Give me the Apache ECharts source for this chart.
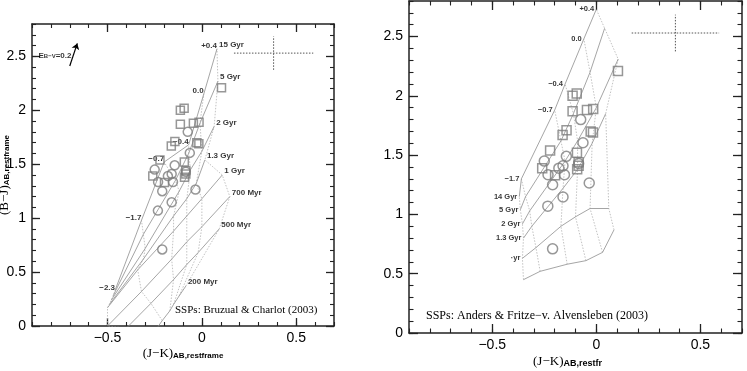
<!DOCTYPE html>
<html>
<head>
<meta charset="utf-8">
<title>(B-J) vs (J-K) with SSP grids</title>
<script src="https://cdn.jsdelivr.net/npm/echarts@6/dist/echarts.min.js"></script>
<style>
  html, body {margin:0; padding:0; background:#fff;}
  #main {width:747px; height:371px;}
</style>
</head>
<body>
<div id="main"></div>
<script>
// observed galaxies (same points in both panels)
var sqJK = [0.104, -0.114, -0.094, -0.114, -0.045, -0.015, -0.143, -0.162, -0.027, -0.016, -0.222, -0.093, -0.085, -0.085, -0.092, -0.26, -0.198];
var sqBJ = [2.21, 2.00, 2.02, 1.87, 1.88, 1.89, 1.71, 1.67, 1.70, 1.69, 1.54, 1.52, 1.44, 1.41, 1.38, 1.39, 1.33];
var ciJK = [-0.075, -0.064, -0.144, -0.25, -0.16, -0.18, -0.232, -0.153, -0.21, -0.034, -0.16, -0.233, -0.21, -0.085];
var ciBJ = [1.80, 1.605, 1.49, 1.45, 1.41, 1.39, 1.335, 1.335, 1.25, 1.265, 1.147, 1.07, 0.71, 1.43];

// Bruzual & Charlot grid: rows = ages, columns = metallicities
var bcAges = ['200 Myr', '500 Myr', '700 Myr', '1 Gyr', '1.3 Gyr', '2 Gyr', '5 Gyr', '15 Gyr'];
var bcMetals = ['\u22122.3', '\u22121.7', '\u22120.7', '\u22120.4', '0.0', '+0.4'];
var bcJK = [
  [-0.25, -0.21, -0.17, -0.15, -0.12, -0.085],
  [-0.40, -0.27, -0.15, -0.08, -0.02, 0.092],
  [-0.50, -0.32, -0.16, -0.08, 0.00, 0.148],
  [-0.50, -0.34, -0.15, -0.08, 0.00, 0.108],
  [-0.49, -0.31, -0.15, -0.08, -0.03, 0.016],
  [-0.48, -0.30, -0.12, -0.06, 0.00, 0.065],
  [-0.47, -0.31, -0.14, -0.07, -0.01, 0.085],
  [-0.46, -0.32, -0.20, -0.07, 0.01, 0.08]
];
var bcBJ = [
  [-0.05, 0.05, 0.14, 0.20, 0.28, 0.37],
  [-0.02, 0.21, 0.43, 0.57, 0.68, 0.90],
  [0.00, 0.32, 0.62, 0.78, 0.92, 1.20],
  [0.17, 0.52, 0.88, 1.02, 1.18, 1.40],
  [0.20, 0.62, 1.02, 1.18, 1.32, 1.54],
  [0.24, 0.72, 1.25, 1.45, 1.62, 1.85],
  [0.28, 0.85, 1.35, 1.60, 1.88, 2.27],
  [0.33, 0.98, 1.52, 1.68, 2.15, 2.57]
];

// Anders & Fritze-v. Alvensleben grid
var afAges = ['', '\u00b7yr', '1.3 Gyr', '2 Gyr', '5 Gyr', '14 Gyr'];
var afMetals = ['', '\u22121.7', '\u22120.7', '\u22120.4', '0.0', '+0.4'];
var afJK = [
  [-0.35, -0.27, -0.14, -0.05, 0.03, 0.085],
  [-0.355, -0.29, -0.17, -0.10, -0.03, 0.06],
  [-0.35, -0.31, -0.16, -0.09, -0.02, 0.045],
  [-0.355, -0.32, -0.15, -0.09, 0.00, 0.105],
  [-0.365, -0.34, -0.17, -0.11, -0.03, 0.04],
  [-0.37, -0.36, -0.20, -0.15, -0.06, 0.00]
];
var afBJ = [
  [0.45, 0.52, 0.58, 0.61, 0.68, 0.87],
  [0.63, 0.72, 0.90, 0.98, 1.05, 1.05],
  [0.80, 0.90, 1.22, 1.38, 1.60, 1.85],
  [0.92, 1.03, 1.45, 1.62, 1.90, 2.31],
  [1.04, 1.15, 1.62, 1.85, 2.20, 2.57],
  [1.15, 1.30, 1.88, 2.10, 2.48, 2.73]
];

// typical error bars and reddening vector
var errJK = 0.38, errBJ = 2.53, errDJK = 0.21, errDBJ = 0.155;
var redFrom = [-0.70, 2.41], redTo = [-0.66, 2.62];

// axes
var jkMin = -0.9, jkMax = 0.7, bjMin = 0, bjMax = 2.8;
var jkTicks = [-0.5, 0, 0.5];
var bjTicks = [0, 0.5, 1, 1.5, 2, 2.5];
var minorStep = 0.1;

var xIdx = [0, 4], yIdx = [0, 4];

function fmt(v) { return String(v).replace('-', '\u2212'); }
function pairs(xs, ys) { return xs.map(function (x, i) { return [x, ys[i]]; }); }
function column(tab, j) { return tab.map(function (row) { return row[j]; }); }

var axisColor = '#222';

function makeAxes(dim, gi, name, nameGap, namePad, sub) {
  var isX = dim === 'x';
  var lo = isX ? jkMin : bjMin, hi = isX ? jkMax : bjMax;
  var ticks = isX ? jkTicks : bjTicks;
  var sides = isX ? ['bottom', 'top'] : ['left', 'right'];
  var big = gi ? 9 : 8;
  var line = {show: true, onZero: false, lineStyle: {color: axisColor, width: 1.5}};
  var out = [];
  sides.forEach(function (side, k) {
    var major = {
      gridIndex: gi, type: 'value', min: lo, max: hi, position: side,
      axisLine: line, splitLine: {show: false},
      axisTick: {inside: true, length: big, customValues: ticks, lineStyle: {color: axisColor, width: 1.3}},
      axisLabel: {show: k === 0, customValues: ticks, formatter: fmt, margin: isX ? 5 : 6,
        color: '#000', fontFamily: 'Liberation Sans', fontSize: 14}
    };
    if (k === 0 && name) {
      major.name = name;
      major.nameLocation = 'middle';
      major.nameGap = nameGap;
      major.nameMoveOverlap = false;
      major.nameTextStyle = {
        padding: namePad,
        rich: {
          m: {fontFamily: 'Liberation Serif', fontSize: 13, color: '#000', verticalAlign: 'bottom', lineHeight: 15},
          s: {fontFamily: 'Liberation Sans', fontWeight: 'bold', fontSize: sub, color: '#000', verticalAlign: 'bottom', lineHeight: 3}
        }
      };
    }
    out.push(major);
    out.push({
      gridIndex: gi, type: 'value', min: lo, max: hi, interval: minorStep, position: side,
      axisLine: {show: false, onZero: false}, splitLine: {show: false}, axisLabel: {show: false},
      axisTick: {inside: true, length: big / 2, lineStyle: {color: axisColor, width: 1.1}}
    });
  });
  return out;
}

function gridSeries(p, jk, bj) {
  var out = [];
  jk.forEach(function (row, i) {
    out.push({type: 'line', xAxisIndex: xIdx[p], yAxisIndex: yIdx[p], data: pairs(row, bj[i]),
      symbol: 'none', silent: true, z: 2, lineStyle: {color: '#8e8e8e', width: 0.8}});
  });
  for (var j = 0; j < jk[0].length; j++) {
    out.push({type: 'line', xAxisIndex: xIdx[p], yAxisIndex: yIdx[p], data: pairs(column(jk, j), column(bj, j)),
      symbol: 'none', silent: true, z: 1, lineStyle: {color: '#b2b2b2', width: 0.8, type: [1.5, 1.5]}});
  }
  return out;
}

function labelSeries(p, pts, texts, pos, offset, size) {
  var data = [];
  pts.forEach(function (pt, i) { if (texts[i]) data.push({value: pt, name: texts[i]}); });
  return {type: 'scatter', xAxisIndex: xIdx[p], yAxisIndex: yIdx[p], symbolSize: 0.1, silent: true, z: 5,
    itemStyle: {color: 'rgba(0,0,0,0)'}, data: data,
    label: {show: true, position: pos, distance: 2, offset: offset, formatter: '{b}', color: '#000',
      fontFamily: 'Liberation Sans', fontWeight: 'bold', fontSize: size}};
}

function markerSeries(p, sym, xs, ys, size) {
  return {type: 'scatter', xAxisIndex: xIdx[p], yAxisIndex: yIdx[p], symbol: sym, symbolSize: size,
    data: pairs(xs, ys), silent: true, z: 6,
    itemStyle: {color: 'rgba(255,255,255,0)', borderColor: '#7d7d7d', borderWidth: 1.5}};
}

function crossSeries(p) {
  var ls = {color: '#555', width: 1, type: [1.5, 1.5]};
  return [
    {type: 'line', xAxisIndex: xIdx[p], yAxisIndex: yIdx[p], symbol: 'none', silent: true, lineStyle: ls,
      data: [[errJK - errDJK, errBJ], [errJK + errDJK, errBJ]]},
    {type: 'line', xAxisIndex: xIdx[p], yAxisIndex: yIdx[p], symbol: 'none', silent: true, lineStyle: ls,
      data: [[errJK, errBJ - errDBJ], [errJK, errBJ + errDBJ]]}
  ];
}

var series = []
  .concat(gridSeries(0, bcJK, bcBJ))
  .concat(gridSeries(1, afJK, afBJ))
  .concat(crossSeries(0), crossSeries(1))
  .concat([
    labelSeries(0, pairs(column(bcJK, 5), column(bcBJ, 5)), bcAges, 'right', [0, -4], 8),
    labelSeries(0, pairs(bcJK[7], bcBJ[7]), bcMetals, 'left', [2, -3], 8),
    labelSeries(1, pairs(column(afJK, 0), column(afBJ, 0)), afAges, 'left', [0, 0], 7.5),
    labelSeries(1, pairs(afJK[5], afBJ[5]), afMetals, 'left', [0, 0], 7.5),
    markerSeries(0, 'rect', sqJK, sqBJ, 8),
    markerSeries(0, 'circle', ciJK, ciBJ, 9),
    markerSeries(1, 'rect', sqJK, sqBJ, 9),
    markerSeries(1, 'circle', ciJK, ciBJ, 10),
    {type: 'lines', coordinateSystem: 'cartesian2d', xAxisIndex: 0, yAxisIndex: 0, silent: true,
      symbol: ['none', 'arrow'], symbolSize: 6, z: 5,
      lineStyle: {color: '#000', width: 1.2, opacity: 1, curveness: 0},
      data: [{coords: [redFrom, redTo]}]},
    {type: 'scatter', xAxisIndex: 0, yAxisIndex: 0, symbolSize: 0.1, silent: true, z: 5,
      itemStyle: {color: 'rgba(0,0,0,0)'},
      data: [[(redFrom[0] + redTo[0]) / 2, (redFrom[1] + redTo[1]) / 2]],
      label: {show: true, position: 'left', distance: 2, formatter: '{a|E}{s|B\u2212V}{a|=0.2}',
        rich: {
          a: {fontFamily: 'Liberation Sans', fontWeight: 'bold', fontSize: 8, color: '#000', verticalAlign: 'bottom', lineHeight: 10},
          s: {fontFamily: 'Liberation Sans', fontWeight: 'bold', fontSize: 6, color: '#000', verticalAlign: 'bottom', lineHeight: 2}
        }}}
  ]);

var chart = echarts.init(document.getElementById('main'));
chart.setOption({
  animation: false,
  backgroundColor: '#fff',
  grid: [
    {left: 32, top: 24, width: 302, height: 302, outerBoundsMode: 'none'},
    {left: 409, top: 1, width: 333, height: 332, outerBoundsMode: 'none'}
  ],
  xAxis: [].concat(
    makeAxes('x', 0, '{m|(J\u2212K)}{s|AB,restframe}', 19, [0, 0, 0, 0], 8),
    makeAxes('x', 1, '{m|(J\u2212K)}{s|AB,restfr}', 20, [0, 16, 0, 0], 9)
  ),
  yAxis: [].concat(
    makeAxes('y', 0, '{m|(B\u2212J)}{s|AB,restframe}', 21, [0, 0, 0, 0], 8),
    makeAxes('y', 1, '', 0, 0, 8)
  ),
  graphic: [
    {type: 'text', left: 175, top: 305, silent: true,
      style: {text: 'SSPs: Bruzual & Charlot (2003)', fontFamily: 'Liberation Serif', fontSize: 11, fill: '#000'}},
    {type: 'text', left: 426, top: 310, silent: true,
      style: {text: 'SSPs: Anders & Fritze\u2212v. Alvensleben (2003)', fontFamily: 'Liberation Serif', fontSize: 12, fill: '#000'}}
  ],
  series: series
});
</script>
</body>
</html>
